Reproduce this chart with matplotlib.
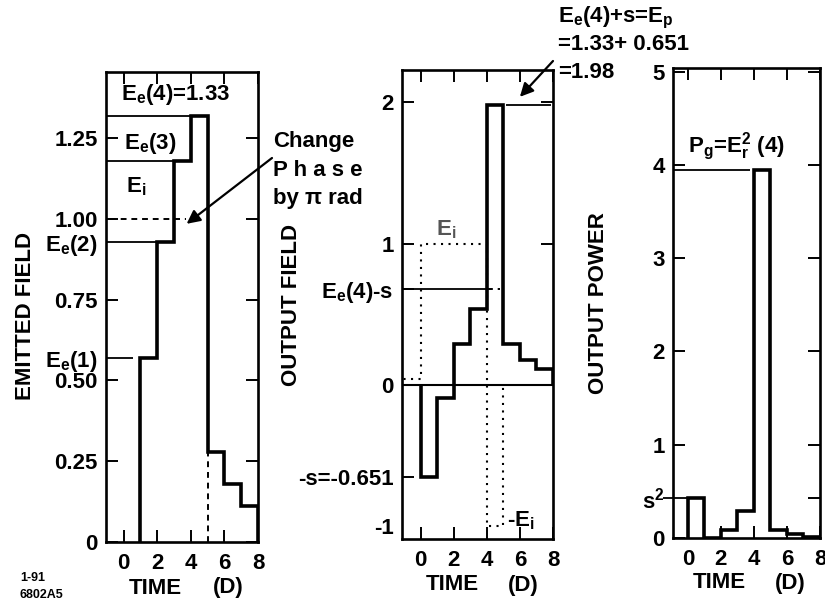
import matplotlib
matplotlib.use("Agg")
import matplotlib.pyplot as plt
import matplotlib.transforms as mtransforms

plt.rcParams['font.family'] = ['Liberation Sans', 'DejaVu Sans']
plt.rcParams['font.weight'] = 'bold'
plt.rcParams['axes.labelweight'] = 'bold'
plt.rcParams['mathtext.fontset'] = 'custom'
plt.rcParams['mathtext.rm'] = 'Liberation Sans:bold'
plt.rcParams['mathtext.it'] = 'Liberation Sans:italic:bold'
plt.rcParams['mathtext.bf'] = 'Liberation Sans:bold'

# emitted field, steps start at t=1
emitted_edges = [1, 2, 3, 4, 5, 6, 7, 8]
emitted_levels = [0.57, 0.93, 1.18, 1.32, 0.28, 0.18, 0.11]
e_inc = 1.00

# output field and power, steps from t=0
out_edges = [0, 1, 2, 3, 4, 5, 6, 7, 8]
out_field = [-0.651, -0.09, 0.29, 0.54, 1.98, 0.29, 0.18, 0.115]
out_power = [0.43, 0.0, 0.09, 0.29, 3.95, 0.09, 0.04, 0.01]

# incident field (dotted) in middle panel
ei_edges = [-1.1, 0, 4, 5]
ei_levels = [0.04, 1.0, -1.0]

s_val = 0.651
ee4_minus_s = 0.68
e_peak = 1.98
s_sq = 0.43
p_g = 3.95

x_ticks = [0, 2, 4, 6, 8]

W, H = 825, 609
fig = plt.figure(figsize=(W / 100, H / 100), dpi=100)


def px_axes(l, r, t, b):
    return fig.add_axes([l / W, 1 - b / H, (r - l) / W, (b - t) / H])


THICK = 2.6
THIN = 1.3
FS = 16


def style(ax):
    for sp in ax.spines.values():
        sp.set_linewidth(1.9)
    ax.tick_params(direction='in', length=8.5, width=1.4, top=True, right=True,
                   labelsize=FS, pad=6)
    ax.tick_params(axis='x', pad=8)
    ax.set_xticks(x_ticks)


def hide_ticks(ax, idx, both=True):
    ticks = ax.yaxis.get_major_ticks()
    for i in idx:
        ticks[i].tick1line.set_visible(False)
        if both:
            ticks[i].tick2line.set_visible(False)


def time_label(ax, y_px):
    tr = mtransforms.blended_transform_factory(ax.transData, fig.transFigure)
    ax.text(1.9, 1 - y_px / H, 'TIME', transform=tr, ha='center', va='center', fontsize=FS)
    ax.text(6.2, 1 - y_px / H, '(D)', transform=tr, ha='center', va='center', fontsize=FS)


# ---------------- panel 1: emitted field
ax1 = px_axes(106, 258, 72, 542)
ax1.set_xlim(-1.05, 7.95)
ax1.set_ylim(0, 1.455)
style(ax1)
ax1.set_xticklabels([str(v) for v in x_ticks])
y1 = [0, 0.25, 0.5, emitted_levels[0], 0.75, emitted_levels[1], 1.0, 1.25]
ax1.set_yticks(y1)
ax1.set_yticklabels(['0', '0.25', '0.50', r'E$_\mathrm{e}$(1)', '0.75',
                     r'E$_\mathrm{e}$(2)', '1.00', '1.25'])
hide_ticks(ax1, [3, 5])
ax1.stairs(emitted_levels, emitted_edges, baseline=0, color='black', lw=THICK)
ax1.hlines(emitted_levels[0], -1.05, 0.55, color='black', lw=THIN)
ax1.hlines(emitted_levels[1], -1.05, 2, color='black', lw=THIN)
ax1.hlines(emitted_levels[2], -1.05, 3, color='black', lw=THIN)
ax1.hlines(emitted_levels[3], -1.05, 4, color='black', lw=THIN)
ax1.hlines(e_inc, -0.8, 3.7, color='black', lw=1.4, linestyles=(0, (3, 2.5)))
ax1.vlines(5, 0, emitted_levels[4], color='black', lw=1.4, linestyles=(0, (3, 2.5)))
ax1.text(3.1, 1.385, r'E$_\mathrm{e}$(4)=1.33', ha='center', va='center', fontsize=FS)
ax1.text(1.6, 1.235, r'E$_\mathrm{e}$(3)', ha='center', va='center', fontsize=FS)
ax1.text(0.75, 1.10, r'E$_\mathrm{i}$', ha='center', va='center', fontsize=FS)
ax1.set_ylabel('EMITTED FIELD', fontsize=FS)
ax1.yaxis.set_label_coords(-70 / 152, 0.48)
time_label(ax1, 588)

ax1.annotate('', xy=(3.75, 0.985), xytext=(272 / W, 1 - 158 / H),
             xycoords='data', textcoords='figure fraction',
             arrowprops=dict(arrowstyle='-|>', color='black', lw=1.6,
                             mutation_scale=20, shrinkA=0, shrinkB=0),
             annotation_clip=False)
fig.text(273 / W, 1 - 142 / H, 'Change', fontsize=FS, va='center', ha='left')
fig.text(273 / W, 1 - 170 / H, 'P h a s e', fontsize=FS, va='center', ha='left')
fig.text(273 / W, 1 - 198 / H, 'by \u03c0 rad', fontsize=FS, va='center', ha='left')

fig.text(20 / W, 1 - 578 / H, '1-91', fontsize=9, va='center')
fig.text(20 / W, 1 - 595 / H, '6802A5', fontsize=9, va='center')

# ---------------- panel 2: output field
ax2 = px_axes(402, 553, 70, 539)
ax2.set_xlim(-1.12, 7.9)
ax2.set_ylim(-1.09, 2.23)
style(ax2)
ax2.set_xticklabels([str(v) for v in x_ticks])
y2 = [-1, -s_val, 0, ee4_minus_s, 1, 2]
ax2.set_yticks(y2)
ax2.set_yticklabels(['-1', '-s=-0.651', '0', r'E$_\mathrm{e}$(4)-s', '1', '2'])
hide_ticks(ax2, [0], both=True)
ticks2 = ax2.yaxis.get_major_ticks()
for i in [1, 3]:
    ticks2[i].tick2line.set_visible(False)
ax2.axhline(0, color='black', lw=1.5)
ax2.stairs(out_field, out_edges, baseline=0, color='black', lw=THICK)
ax2.stairs(ei_levels, ei_edges, baseline=0, color='black', lw=1.5,
           linestyle=(0, (1, 2.6)))
ax2.hlines(ee4_minus_s, -1.12, 4, color='black', lw=THIN)
ax2.hlines(ee4_minus_s, 4, 4.8, color='black', lw=1.4, linestyles=(0, (3, 2.5)))
ax2.hlines(e_peak, 5.15, 7.9, color='black', lw=THIN)
ax2.text(1.55, 1.10, r'E$_\mathrm{i}$', ha='center', va='center', fontsize=FS,
         color='#555555')
ax2.text(5.2, -0.96, r'-E$_\mathrm{i}$', ha='left', va='center', fontsize=FS)
ax2.set_ylabel('OUTPUT FIELD', fontsize=FS)
ax2.yaxis.set_label_coords(-100 / 151, 0.50)
time_label(ax2, 585)

ax2.annotate('', xy=(6.0, 2.04), xytext=(553 / W, 1 - 61 / H),
             xycoords='data', textcoords='figure fraction',
             arrowprops=dict(arrowstyle='-|>', color='black', lw=1.6,
                             mutation_scale=20, shrinkA=0, shrinkB=0),
             annotation_clip=False)
fig.text(558 / W, 1 - 18 / H, r'E$_\mathrm{e}$(4)+s=E$_\mathrm{p}$', fontsize=FS,
         va='center', ha='left')
fig.text(558 / W, 1 - 45 / H, '=1.33+ 0.651', fontsize=FS, va='center', ha='left')
fig.text(558 / W, 1 - 73 / H, '=1.98', fontsize=FS, va='center', ha='left')

# ---------------- panel 3: output power
ax3 = px_axes(673, 820, 68, 538)
ax3.set_xlim(-0.9, 7.8)
ax3.set_ylim(0, 5.04)
style(ax3)
ax3.set_xticklabels([str(v) for v in x_ticks])
y3 = [0, s_sq, 1, 2, 3, 4, 5]
ax3.set_yticks(y3)
ax3.set_yticklabels(['0', r's$^2$', '1', '2', '3', '4', '5'])
hide_ticks(ax3, [1], both=False)
ax3.stairs(out_power, out_edges, baseline=0, color='black', lw=THICK)
ax3.hlines(s_sq, -1.5, 0, color='black', lw=THIN, clip_on=False)
ax3.hlines(p_g, -0.9, 3.75, color='black', lw=THIN)
ax3.text(0.0, 4.2, r'P$_\mathrm{g}$=E$_\mathrm{r}^2$ (4)', ha='left', va='center',
         fontsize=FS)
ax3.set_ylabel('OUTPUT POWER', fontsize=FS)
ax3.yaxis.set_label_coords(-64 / 147, 0.50)
time_label(ax3, 583)

fig.savefig('out.png', dpi=100)
